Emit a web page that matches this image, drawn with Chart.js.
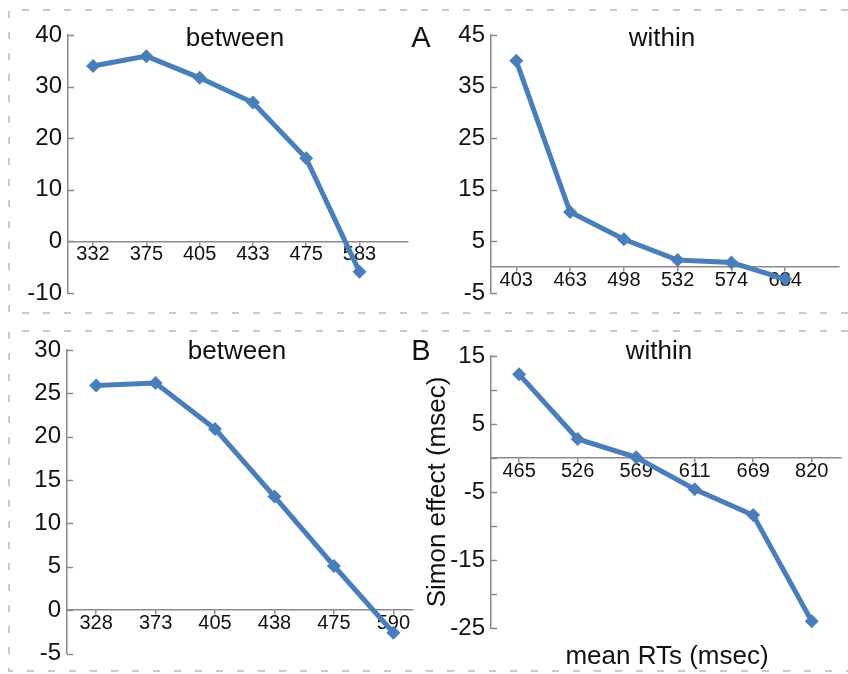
<!DOCTYPE html>
<html>
<head>
<meta charset="utf-8">
<script src="https://cdn.jsdelivr.net/npm/chart.js@4.4.1/dist/chart.umd.min.js"></script>
<style>
  html, body { margin: 0; padding: 0; background: #fff; }
  body { width: 848px; height: 674px; position: relative; overflow: hidden; font-family: "Liberation Sans", Arial, sans-serif; }
  canvas { position: absolute; }
  .txt { position: absolute; color: #111; white-space: nowrap; transform: translate(-50%, -50%); }
  .title { font-size: 26px; }
  .tag { font-size: 29px; }
</style>
</head>
<body>
<canvas id="frame" width="848" height="674" style="left:0;top:0"></canvas>
<canvas id="aBetween" width="420" height="320" style="left:0;top:0"></canvas>
<canvas id="aWithin" width="428" height="320" style="left:420px;top:0"></canvas>
<canvas id="bBetween" width="420" height="354" style="left:0;top:320px"></canvas>
<canvas id="bWithin" width="428" height="354" style="left:420px;top:320px"></canvas>

<div class="txt title" style="left:235px;top:37px">between</div>
<div class="txt title" style="left:662px;top:37px">within</div>
<div class="txt title" style="left:237px;top:350px">between</div>
<div class="txt title" style="left:659px;top:350px">within</div>
<div class="txt tag" style="left:421px;top:37px">A</div>
<div class="txt tag" style="left:421px;top:350px">B</div>
<div class="txt title" style="left:667px;top:655px">mean RTs (msec)</div>

<script>
// panel A
const aBetweenRT = ['332', '375', '405', '433', '475', '583'];
const aBetweenEffect = [34.0, 35.9, 31.7, 26.9, 16.1, -5.9];
const aBetweenTicks = [40, 30, 20, 10, 0, -10];

const aWithinRT = ['403', '463', '498', '532', '574', '684'];
const aWithinEffect = [40.0, 10.7, 5.4, 1.4, 0.9, -2.3];
const aWithinTicks = [45, 35, 25, 15, 5, -5];

// panel B
const bBetweenRT = ['328', '373', '405', '438', '475', '590'];
const bBetweenEffect = [25.9, 26.2, 20.9, 13.1, 5.1, -2.6];
const bBetweenTicks = [30, 25, 20, 15, 10, 5, 0, -5];

const bWithinRT = ['465', '526', '569', '611', '669', '820'];
const bWithinEffect = [12.3, 2.8, 0.1, -4.6, -8.4, -24.0];
const bWithinTicks = [15, 5, -5, -15, -25];

const lineColor = '#4a7ebb';
const axisColor = '#8a8a8a';
const fontFamily = '"Liberation Sans", Arial, sans-serif';

// dashed frames round the two panels
function drawFrame() {
    const c = document.getElementById('frame').getContext('2d');
    c.strokeStyle = '#c9c9c9';
    c.lineWidth = 2;
    c.setLineDash([7, 14]);
    const boxes = [[9, 10, 313], [9, 331, 671]];
    boxes.forEach(([x, top, bottom]) => {
        c.beginPath();
        c.moveTo(848, top); c.lineTo(x, top); c.lineTo(x, bottom); c.lineTo(848, bottom);
        c.stroke();
    });
}

// short ticks pointing into the plot from the y axis
const innerTicks = {
    id: 'innerTicks',
    afterDraw(chart) {
        const c = chart.ctx;
        const y = chart.scales.y;
        const left = chart.chartArea.left;
        c.save();
        c.strokeStyle = axisColor;
        c.lineWidth = 1.5;
        y.ticks.forEach((t) => {
            const py = Math.round(y.getPixelForValue(t.value)) + 0.5;
            c.beginPath();
            c.moveTo(left, py);
            c.lineTo(left + 6, py);
            c.stroke();
        });
        c.restore();
    },
};

function makePanel(id, rt, effect, yTicks, box) {
    const ctx = document.getElementById(id).getContext('2d');
    const yScale = {
        min: Math.min(...yTicks),
        max: Math.max(...yTicks),
        afterFit: (s) => { s.width = box.left; },
        afterBuildTicks: (s) => {
            const out = [];
            for (let v = s.min; v <= s.max + 0.001; v += 5) out.push({ value: v });
            s.ticks = out;
        },
        border: { display: true, color: axisColor, width: 1.5 },
        grid: { drawOnChartArea: false, drawTicks: false },
        ticks: {
            padding: 6,
            color: '#111',
            font: { family: fontFamily, size: 24 },
            callback: (v) => (yTicks.includes(v) ? String(v) : ''),
        },
    };
    if (box.yTitle) {
        yScale.title = {
            display: true,
            text: box.yTitle,
            color: '#111',
            font: { family: fontFamily, size: 26 },
            padding: { top: 2, bottom: 0 },
        };
    }
    return new Chart(ctx, {
        type: 'line',
        data: {
            datasets: [
                {
                    data: effect.map((v, i) => ({ x: i, y: v })),
                    borderColor: lineColor,
                    backgroundColor: lineColor,
                    borderWidth: 5,
                    pointStyle: 'rectRot',
                    pointRadius: 7,
                    pointBorderWidth: 0,
                    clip: false,
                },
            ],
        },
        options: {
            responsive: false,
            animation: false,
            events: [],
            layout: { padding: { top: box.top, bottom: box.bottom, right: box.right, left: 0 } },
            plugins: { legend: { display: false }, tooltip: { enabled: false } },
            scales: {
                x: {
                    type: 'linear',
                    position: { y: 0 },
                    min: box.xMin,
                    max: box.xMax,
                    afterBuildTicks: (s) => { s.ticks = rt.map((_, i) => ({ value: i })); },
                    border: { display: true, color: axisColor, width: 1.5 },
                    grid: { drawOnChartArea: false, drawTicks: true, tickLength: 4, color: axisColor, lineWidth: 1.5 },
                    ticks: {
                        padding: -3,
                        color: '#111',
                        maxRotation: 0,
                        font: { family: fontFamily, size: 20 },
                        callback: (v) => rt[v],
                    },
                },
                y: yScale,
            },
        },
        plugins: [innerTicks],
    });
}

drawFrame();
makePanel('aBetween', aBetweenRT, aBetweenEffect, aBetweenTicks,
    { left: 68, top: 35, bottom: 27, right: 12, xMin: -0.47, xMax: 5.91 });
makePanel('aWithin', aWithinRT, aWithinEffect, aWithinTicks,
    { left: 71, top: 35, bottom: 27, right: 9, xMin: -0.47, xMax: 6.0 });
makePanel('bBetween', bBetweenRT, bBetweenEffect, bBetweenTicks,
    { left: 67, top: 30, bottom: 19, right: 0, xMin: -0.49, xMax: 5.33 });
makePanel('bWithin', bWithinRT, bWithinEffect, bWithinTicks,
    { left: 71, top: 36, bottom: 46, right: 0, xMin: -0.48, xMax: 5.5, yTitle: 'Simon effect (msec)' });
</script>
</body>
</html>
